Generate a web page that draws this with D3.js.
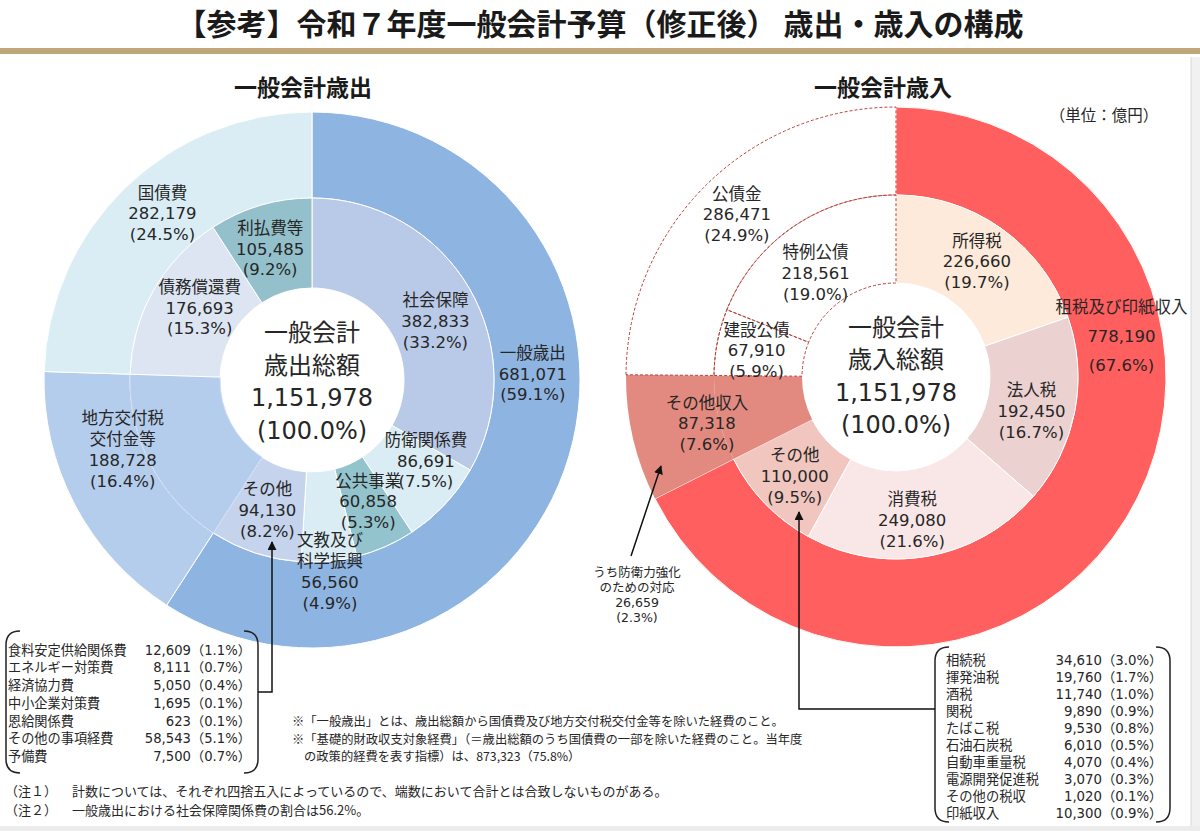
<!DOCTYPE html>
<html>
<head>
<meta charset="utf-8">
<script src="https://cdn.jsdelivr.net/npm/d3@7"></script>
<style>
body { margin: 0; background: #fff; }
text { font-family: "DejaVu Sans", "Noto Sans CJK JP", sans-serif; fill: #262626; }
.cjk { font-family: "Noto Sans CJK JP", sans-serif; }
</style>
</head>
<body>
<svg id="chart" width="1200" height="831"></svg>
<script>
// 歳出（億円）
var expOuterNames = ["一般歳出", "地方交付税|交付金等", "国債費"];
var expOuterValues = [681071, 188728, 282179];
var expOuterPct = ["59.1%", "16.4%", "24.5%"];
var expInnerNames = ["社会保障", "防衛関係費", "公共事業", "文教及び|科学振興", "その他", "", "債務償還費", "利払費等"];
var expInnerValues = [382833, 86691, 60858, 56560, 94130, 188728, 176693, 105485];
var expInnerPct = ["33.2%", "7.5%", "5.3%", "4.9%", "8.2%", "", "15.3%", "9.2%"];

// 歳入（億円）
var revOuterNames = ["租税及び印紙収入", "その他収入", "公債金"];
var revOuterValues = [778190, 87318, 286471];
var revOuterPct = ["67.6%", "7.6%", "24.9%"];
var revInnerNames = ["所得税", "法人税", "消費税", "その他", "", "建設公債", "特例公債"];
var revInnerValues = [226660, 192450, 249080, 110000, 87318, 67910, 218561];
var revInnerPct = ["19.7%", "16.7%", "21.6%", "9.5%", "", "5.9%", "19.0%"];

var totalValue = 1151978;

// 内訳
var otherExpNames = ["食料安定供給関係費", "エネルギー対策費", "経済協力費", "中小企業対策費", "恩給関係費", "その他の事項経費", "予備費"];
var otherExpValues = [12609, 8111, 5050, 1695, 623, 58543, 7500];
var otherExpPct = ["1.1%", "0.7%", "0.4%", "0.1%", "0.1%", "5.1%", "0.7%"];
var otherTaxNames = ["相続税", "揮発油税", "酒税", "関税", "たばこ税", "石油石炭税", "自動車重量税", "電源開発促進税", "その他の税収", "印紙収入"];
var otherTaxValues = [34610, 19760, 11740, 9890, 9530, 6010, 4070, 3070, 1020, 10300];
var otherTaxPct = ["3.0%", "1.7%", "1.0%", "0.9%", "0.8%", "0.5%", "0.4%", "0.3%", "0.1%", "0.9%"];
var defenseValue = 26659, defensePct = "2.3%";

// colours
var expOuterColors = ["#8eb4e2", "#b5cdec", "#dbedf4"];
var expInnerColors = ["#b9cae8", "#dbedf4", "#93c3cd", "#dbedf4", "#c5d3ec", "#b5cdec", "#dce5f1", "#93c0cb"];
var revOuterColors = ["#ff5f5f", "#e38a80", "#ffffff"];
var revInnerColors = ["#fdeadb", "#ecd1d1", "#f9e6e6", "#f0c6be", "#e38a80", "#ffffff", "#ffffff"];

var fmt = d3.format(",");
var svg = d3.select("#chart");
var labelSize = 16.5, labelLH = 20.8;

// page frame
svg.append("rect").attr("x", 1191).attr("y", 57).attr("width", 9).attr("height", 774).attr("fill", "#f1f1f1");
svg.append("line").attr("x1", 1191).attr("x2", 1191).attr("y1", 57).attr("y2", 831).attr("stroke", "#d8d8d8");
svg.append("rect").attr("x", 0).attr("y", 826).attr("width", 1200).attr("height", 5).attr("fill", "#ececec");

svg.append("text").attr("class", "cjk").attr("x", 600).attr("y", 35).attr("text-anchor", "middle")
  .attr("font-size", 30).attr("font-weight", "bold").style("fill", "#1a1a1a")
  .text("【参考】令和７年度一般会計予算（修正後） 歳出・歳入の構成");
svg.append("rect").attr("x", 0).attr("y", 48).attr("width", 1200).attr("height", 6).attr("fill", "#bfa77a");

svg.append("text").attr("class", "cjk").attr("x", 303).attr("y", 96).attr("text-anchor", "middle")
  .attr("font-size", 23).attr("font-weight", "bold").style("fill", "#1a1a1a").text("一般会計歳出");
svg.append("text").attr("class", "cjk").attr("x", 883).attr("y", 96).attr("text-anchor", "middle")
  .attr("font-size", 23).attr("font-weight", "bold").style("fill", "#1a1a1a").text("一般会計歳入");
svg.append("text").attr("class", "cjk").attr("x", 1104).attr("y", 121).attr("text-anchor", "middle")
  .attr("font-size", 15.5).text("（単位：億円）");

var defs = svg.append("defs");
defs.append("marker").attr("id", "arr").attr("viewBox", "0 0 10 10").attr("refX", 9).attr("refY", 5)
  .attr("markerWidth", 6).attr("markerHeight", 6).attr("orient", "auto")
  .append("path").attr("d", "M0,0L10,5L0,10z").attr("fill", "#111");

function ring(g, values, r0, r1, colors, strokes) {
  var arcs = d3.pie().sort(null).value(function(d) { return d; })(values);
  var arc = d3.arc().innerRadius(r0).outerRadius(r1);
  g.selectAll(null).data(arcs).enter().append("path")
    .attr("d", arc)
    .attr("fill", function(d, i) { return colors[i]; })
    .attr("stroke", function(d, i) { return strokes[i]; })
    .attr("stroke-width", 1);
  return { arcs: arcs, arc: arc };
}

function label(g, lines, x, y, lh, size) {
  var t = g.append("text").attr("text-anchor", "middle").attr("font-size", size);
  lines.forEach(function(s, i) {
    t.append("tspan").attr("x", x).attr("y", y + (i - (lines.length - 1) / 2) * lh + size * 0.36).text(s);
  });
}

function ringLabels(g, ringObj, names, values, pcts, nudges, rMid, lhs) {
  ringObj.arcs.forEach(function(a, i) {
    if (!names[i]) return;
    var c = d3.arc().innerRadius(rMid).outerRadius(rMid).centroid(a);
    var lines = names[i].split("|").concat([fmt(values[i]), "(" + pcts[i] + ")"]);
    label(g, lines, c[0] + nudges[i][0], c[1] + nudges[i][1], lhs ? lhs[i] : labelLH, labelSize);
  });
}

// ---------- 歳出 ----------
var gE = svg.append("g").attr("transform", "translate(312,380)");
var eOut = ring(gE, expOuterValues, 182, 268, expOuterColors, ["#fff", "#fff", "#fff"]);
var eIn = ring(gE, expInnerValues, 92, 182, expInnerColors,
  ["#fff", "#fff", "#fff", "#fff", "#fff", "#cddcf2", "#fff", "#fff"]);
ringLabels(gE, eOut, expOuterNames, expOuterValues, expOuterPct, [[5, -70], [10, -35], [7, -5]], 225);
ringLabels(gE, eIn, expInnerNames, expInnerValues, expInnerPct,
  [[5, 10], [14, -13], [1, -4], [5, 55], [-2, 0], null, [7, -5], [-3, 0]], 137);
label(gE, ["一般会計", "歳出総額", fmt(totalValue), "(100.0%)"], 0, 1.5, 32.5, 24);

// ---------- 歳入 ----------
var gR = svg.append("g").attr("transform", "translate(896,377)");
var rOut = ring(gR, revOuterValues, 182, 270, revOuterColors, ["#fff", "none", "none"]);
var rIn = ring(gR, revInnerValues, 94, 182, revInnerColors, ["#fff", "#fff", "#fff", "#fff", "none", "none", "none"]);
// 公債金 dashed outlines
[[rOut, 2], [rIn, 5], [rIn, 6]].forEach(function(p) {
  gR.append("path").attr("d", p[0].arc(p[0].arcs[p[1]])).attr("fill", "none")
    .attr("stroke", "#b8403c").attr("stroke-width", 1).attr("stroke-dasharray", "3,2");
});
ringLabels(gR, rOut, revOuterNames, revOuterValues, revOuterPct, [[33, -159], [31, -5], [0, -2]], 226, [29, labelLH, labelLH]);
ringLabels(gR, rIn, revInnerNames, revInnerValues, revInnerPct,
  [[1, -3], [0, 8], [-8, 7], [-2, 3], null, [-4, 0], [-3, 10]], 138);
label(gR, ["一般会計", "歳入総額", fmt(totalValue), "(100.0%)"], 0, -1, 32.5, 24);

// うち防衛力強化
label(svg, ["うち防衛力強化", "のための対応", fmt(defenseValue), "(" + defensePct + ")"], 637, 595, 15.3, 12.5);
svg.append("line").attr("x1", 631).attr("y1", 556).attr("x2", 661).attr("y2", 466)
  .attr("stroke", "#111").attr("stroke-width", 1.5).attr("marker-end", "url(#arr)");

// ---------- brackets ----------
function bracket(x0, y0, x1, y1) {
  var r = 14;
  var p = "M" + (x0 + r) + "," + y0 + "Q" + x0 + "," + y0 + "," + x0 + "," + (y0 + r) +
    "L" + x0 + "," + (y1 - r) + "Q" + x0 + "," + y1 + "," + (x0 + r) + "," + y1 +
    "M" + (x1 - r) + "," + y0 + "Q" + x1 + "," + y0 + "," + x1 + "," + (y0 + r) +
    "L" + x1 + "," + (y1 - r) + "Q" + x1 + "," + y1 + "," + (x1 - r) + "," + y1;
  svg.append("path").attr("d", p).attr("fill", "none").attr("stroke", "#222").attr("stroke-width", 1.5);
}

function list(names, values, pcts, xName, xVal, y0, step, size) {
  names.forEach(function(n, i) {
    var y = y0 + i * step + size * 0.36;
    svg.append("text").attr("x", xName).attr("y", y).attr("font-size", size).attr("class", "cjk").text(n);
    svg.append("text").attr("x", xVal).attr("y", y).attr("font-size", size).attr("text-anchor", "end").text(fmt(values[i]));
    svg.append("text").attr("x", xVal).attr("y", y).attr("font-size", size).text("（" + pcts[i] + "）");
  });
}

bracket(6, 631, 258, 773);
list(otherExpNames, otherExpValues, otherExpPct, 8, 191, 650, 17.7, 13.2);
svg.append("path").attr("d", "M258,692H272V542").attr("fill", "none").attr("stroke", "#111").attr("stroke-width", 1.5)
  .attr("marker-end", "url(#arr)");

bracket(935, 647, 1170, 822);
list(otherTaxNames, otherTaxValues, otherTaxPct, 946, 1102, 660, 17.05, 13.3);
svg.append("path").attr("d", "M935,709H799V512").attr("fill", "none").attr("stroke", "#111").attr("stroke-width", 1.5)
  .attr("marker-end", "url(#arr)");

// ---------- notes ----------
var notes = [
  ["※「一般歳出」とは、歳出総額から国債費及び地方交付税交付金等を除いた経費のこと。", 292, 721],
  ["※「基礎的財政収支対象経費」（＝歳出総額のうち国債費の一部を除いた経費のこと。当年度", 292, 739],
  ["の政策的経費を表す指標）は、873,323（75.8%）", 304, 756]
];
notes.forEach(function(n) {
  svg.append("text").attr("class", "cjk").attr("x", n[1]).attr("y", n[2] + 4.5).attr("font-size", 12.3).text(n[0]);
});
[["（注１）", "計数については、それぞれ四捨五入によっているので、端数において合計とは合致しないものがある。", 791],
 ["（注２）", "一般歳出における社会保障関係費の割合は56.2%。", 810]].forEach(function(n) {
  svg.append("text").attr("class", "cjk").attr("x", 5).attr("y", n[2] + 5).attr("font-size", 13).text(n[0]);
  svg.append("text").attr("class", "cjk").attr("x", 72).attr("y", n[2] + 5).attr("font-size", 13).text(n[1]);
});
</script>
</body>
</html>
